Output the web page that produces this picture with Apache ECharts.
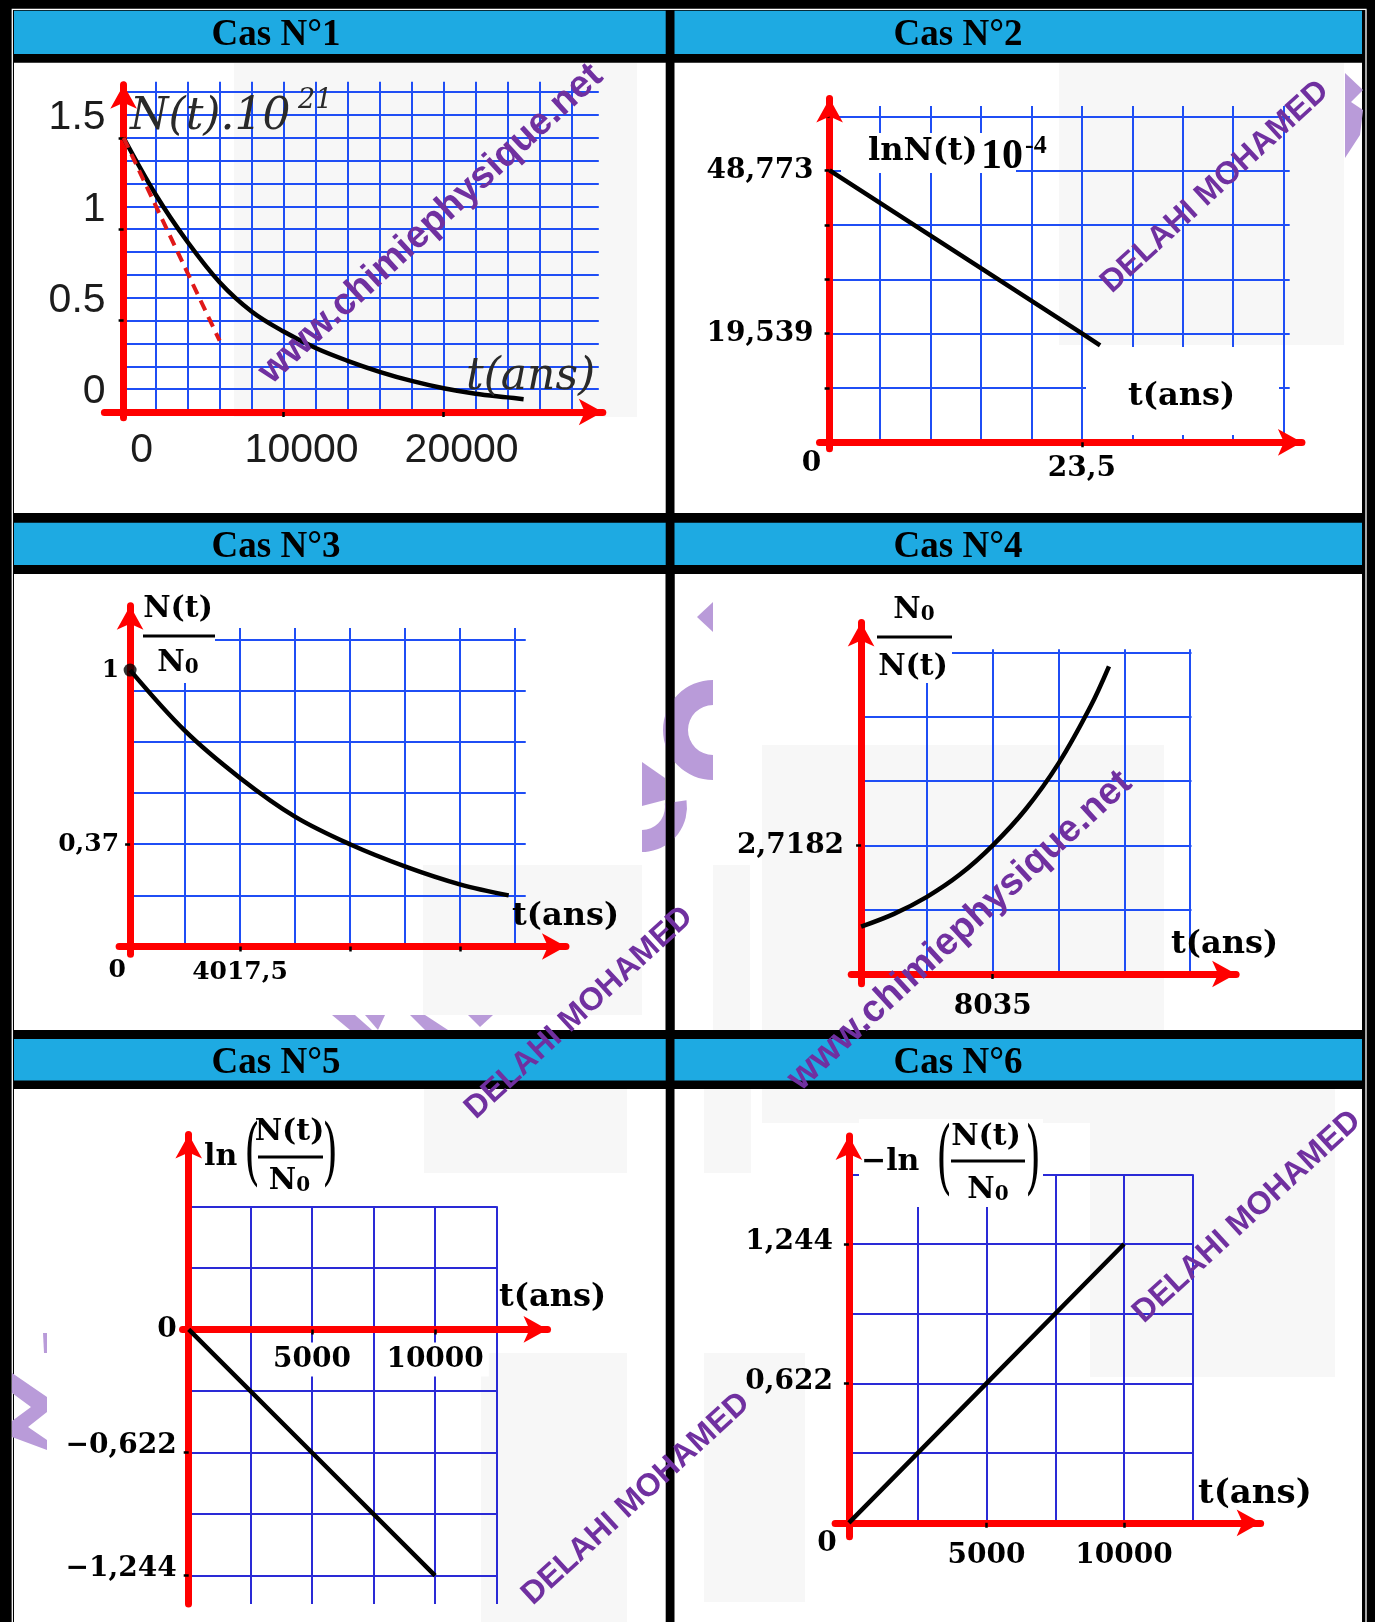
<!DOCTYPE html>
<html>
<head>
<meta charset="utf-8">
<title>Cas N°1 – Cas N°6</title>
<script src="https://cdn.jsdelivr.net/npm/echarts@6/dist/echarts.min.js"></script>
<style>
  html, body { margin: 0; padding: 0; background: #000; }
  #chart { width: 1375px; height: 1622px; }
</style>
</head>
<body>
<div id="chart"></div>
<script>
// valeurs
// Cas N°1 : N(t).10^21 en fonction de t (ans)
const cas1T = [0, 2000, 4000, 6000, 8000, 10000, 12000, 14000, 16000, 18000, 20000, 22000, 24000, 25000];
const cas1N = [1.5, 1.19, 0.93, 0.71, 0.55, 0.44, 0.35, 0.28, 0.22, 0.17, 0.13, 0.10, 0.08, 0.07];
const cas1TangT = [0, 6000];
const cas1TangN = [1.5, 0.39];
const cas1XLabels = [0, 10000, 20000];
const cas1YLabels = [0, 0.5, 1, 1.5];
const cas1Step = [2000, 0.125];

// Cas N°2 : lnN(t).10^-4
const cas2T = [0, 23.5, 25.2];
const cas2Y = [48.773, 19.539, 17.4];
const cas2XLabels = [0, 23.5];
const cas2YLabels = [19.539, 48.773];
const cas2YTicks = [9.7446, 19.539, 29.234, 38.978, 48.773, 58.468];
const cas2Step = [4.7, 9.7446];

// Cas N°3 : N(t)/N0
const cas3T = [0, 2009, 4017.5, 6026, 8035, 10044, 12052.5, 13840];
const cas3R = [1, 0.78, 0.61, 0.47, 0.37, 0.29, 0.225, 0.185];
const cas3XLabels = [0, 4017.5];
const cas3YLabels = [0.37, 1];
const cas3XTicks = [4017.5, 8035, 12052.5];
const cas3Step = [2008.75, 0.185];

// Cas N°4 : N0/N(t)
const cas4T = [0, 2009, 4017.5, 6026, 8035, 10044, 12052.5, 14000, 15130];
const cas4R = [1.0, 1.27, 1.63, 2.1, 2.7182, 3.48, 4.45, 5.65, 6.5];
const cas4XLabels = [8035];
const cas4YLabels = [2.7182];
const cas4Step = [4017.5, 1.3591];

// Cas N°5 : ln(N(t)/N0)
const cas5T = [0, 5000, 10000];
const cas5Y = [0, -0.622, -1.244];
const cas5XLabels = [5000, 10000];
const cas5YLabels = [0, -0.622, -1.244];
const cas5Step = [2500, 0.311];

// Cas N°6 : -ln(N(t)/N0)
const cas6T = [0, 5000, 10000];
const cas6Y = [0, 0.622, 1.244];
const cas6XLabels = [0, 5000, 10000];
const cas6YLabels = [0.622, 1.244];
const cas6Step = [2500, 0.311];

const RED = '#ff0000';
const BAR = '#1eaae2';
const PURPLE = '#7030a0';
const DECO = '#b99bd9';
const GREY = '#f7f7f7';

const zip = (a, b) => a.map((v, i) => [v, b[i]]);
const frFmt = v => String(v).replace('.', ',').replace('-', '\u2212');
const ptFmt = v => String(v);

const sansLab = { fontFamily: 'Liberation Sans', fontSize: 41, fontWeight: 'normal', color: '#1c1c1c' };
const serifLab = { fontFamily: 'DejaVu Serif', fontSize: 28, fontWeight: 'bold', color: '#000' };
const serifLabS = { fontFamily: 'DejaVu Serif', fontSize: 25, fontWeight: 'bold', color: '#000' };

// mise en page : origine (px), taille d'une case (px), étendues en cases
const panels = [
  { ox: 123.6, oy: 412, cw: 32, ch: 22.85, step: cas1Step, vx: 14, vy: [0, 14.45], hy: [0, 14], hx: 14.85,
    ax: [-0.6, 15.35], ay: [-0.25, 14.85], grid: '#1f4ef5',
    xl: { vals: cas1XLabels, fmt: ptFmt, font: sansLab, margin: 18, pads: [[0,0,0,36],[0,0,0,36],[0,0,0,36]] },
    yl: { vals: cas1YLabels, fmt: ptFmt, font: sansLab, margin: 18, pads: [[0,0,40,0],[0,0,40,0],[0,0,40,0],[0,0,40,0]] },
    xt: [10000, 20000], yt: [0.5, 1, 1.5] },
  { ox: 829.6, oy: 442.3, cw: 50.45, ch: 54.33, step: cas2Step, vx: 9, vy: [0, 6.19], hy: [0, 6], hx: 9.12,
    ax: [-0.2, 9.6], ay: [-0.12, 6.55], grid: '#1f4ef5',
    xl: { vals: cas2XLabels, fmt: frFmt, font: serifLab, margin: 7, pads: [[0,36,0,0],[5,0,0,0]] },
    yl: { vals: cas2YLabels, fmt: frFmt, font: serifLab, margin: 16, pads: [[0,0,0,0],[0,0,0,0]] },
    xt: [23.5], yt: cas2YTicks },
  { ox: 130.1, oy: 946.5, cw: 54.95, ch: 51.13, step: cas3Step, vx: 7, vy: [0, 6.23], hy: [0, 6], hx: 7.2,
    ax: [-0.2, 8.15], ay: [-0.15, 6.9], grid: '#1f4ef5',
    xl: { vals: cas3XLabels, fmt: frFmt, font: serifLabS, margin: 11, pads: [[0,26,0,0],[2,0,0,0]] },
    yl: { vals: cas3YLabels, fmt: frFmt, font: serifLabS, margin: 11, pads: [[0,0,0,0],[0,0,0,0]] },
    xt: cas3XTicks, yt: [0.37] },
  { ox: 861.1, oy: 974, cw: 65.82, ch: 64.33, step: cas4Step, vx: 5, vy: [0, 5.05], hy: [0, 5], hx: 5.02,
    ax: [-0.15, 5.88], ay: [-0.15, 5.65], grid: '#1f4ef5',
    xl: { vals: cas4XLabels, fmt: frFmt, font: serifLab, margin: 19, pads: [[0,0,0,0]] },
    yl: { vals: cas4YLabels, fmt: frFmt, font: serifLab, margin: 17, pads: [[0,0,0,0]] },
    xt: cas4XLabels, yt: cas4YLabels },
  { ox: 188.7, oy: 1329.4, cw: 61.6, ch: 61.55, step: cas5Step, vx: 5, vy: [-4.46, 2], hy: [-4, 2], hx: 5,
    ax: [-0.1, 6.02], ay: [-4.46, 3.36], grid: '#2a2ad6',
    xl: { vals: cas5XLabels, fmt: frFmt, font: serifLab, margin: 13, pads: [[3,5,3,5],[3,5,3,5]], bg: '#fff' },
    yl: { vals: cas5YLabels, fmt: frFmt, font: serifLab, margin: 12, pads: [[0,0,0,0],[0,0,14,0],[0,0,14,0]] },
    xt: cas5XLabels, yt: [-0.622, -1.244] },
  { ox: 848.9, oy: 1522.8, cw: 68.79, ch: 69.7, step: cas6Step, vx: 5, vy: [0, 5], hy: [0, 5], hx: 5,
    ax: [-0.2, 6.16], ay: [-0.2, 5.72], grid: '#2a2ad6',
    xl: { vals: cas6XLabels, fmt: frFmt, font: serifLab, margin: 7, pads: [[0,44,0,0],[12,0,0,0],[12,0,0,0]] },
    yl: { vals: cas6YLabels, fmt: frFmt, font: serifLab, margin: 16, pads: [[0,0,4,0],[0,0,4,0]] },
    xt: [5000, 10000], yt: cas6YLabels }
];

const grids = [], xAxes = [], yAxes = [];
const ARROW = 12; // demi-longueur de la flèche

function addGrid(p, xr, yr, trimX, trimY) {
  const left = p.ox + xr[0] * p.cw;
  const right = p.ox + xr[1] * p.cw - (trimX || 0);
  const top = p.oy - yr[1] * p.ch + (trimY || 0);
  const bottom = p.oy - yr[0] * p.ch;
  grids.push({ left, top, width: right - left, height: bottom - top, containLabel: false, outerBoundsMode: 'none' });
  return { min: [xr[0], yr[0]], max: [(right - p.ox) / p.cw, (p.oy - top) / p.ch] };
}

function hidden(gi, min, max, extra) {
  return Object.assign({ gridIndex: gi, type: 'value', min, max, z: 0,
    axisLine: { show: false }, axisTick: { show: false }, axisLabel: { show: false }, splitLine: { show: false } }, extra || {});
}

function labelConf(l) {
  const rich = {};
  l.vals.forEach((v, i) => {
    rich['p' + i] = Object.assign({ padding: l.pads[i] }, l.font, l.bg ? { backgroundColor: l.bg } : {});
  });
  return Object.assign({ show: true, customValues: l.vals, margin: l.margin, rich,
    formatter: v => {
      const i = l.vals.findIndex(u => Math.abs(u - v) < 1e-6 * Math.max(1, Math.abs(u)));
      return i < 0 ? '' : '{p' + i + '|' + l.fmt(l.vals[i]) + '}';
    } }, l.font);
}

// axe rouge fléché (trait seul)
function redAxis(gi, r) {
  return { gridIndex: gi, type: 'value', min: r[0], max: r[1], z: 3,
    axisLine: { show: true, onZero: true, symbol: ['none', 'arrow'], symbolSize: [20, 24],
      lineStyle: { color: RED, width: 7 } },
    axisTick: { show: false }, axisLabel: { show: false }, splitLine: { show: false } };
}

// axe invisible portant graduations et étiquettes, placé sur l'origine
function labelAxis(gi, r, lab, ticks) {
  return { gridIndex: gi, type: 'value', min: r[0], max: r[1], z: 3,
    axisLine: { show: false },
    axisTick: { show: ticks.length > 0, customValues: ticks, length: 5, lineStyle: { color: '#000', width: 2.5 } },
    axisLabel: labelConf(lab),
    splitLine: { show: false } };
}

panels.forEach((p, k) => {
  const [dx, dy] = p.step;
  const lineStyle = { color: p.grid, width: 2 };
  // quadrillage vertical
  let gi = grids.length;
  addGrid(p, [0, p.vx], p.vy);
  xAxes.push(hidden(gi, 0, p.vx * dx, { interval: dx, splitLine: { show: true, lineStyle } }));
  yAxes.push(hidden(gi, p.vy[0] * dy, p.vy[1] * dy));
  // quadrillage horizontal (porte les courbes)
  gi = grids.length;
  addGrid(p, [0, p.hx], p.hy);
  xAxes.push(hidden(gi, 0, p.hx * dx));
  yAxes.push(hidden(gi, p.hy[0] * dy, p.hy[1] * dy, { interval: dy, splitLine: { show: true, lineStyle } }));
  // axes rouges fléchés
  gi = grids.length;
  const e = addGrid(p, p.ax, p.ay, ARROW, ARROW);
  xAxes.push(redAxis(gi, [e.min[0] * dx, e.max[0] * dx]));
  yAxes.push(redAxis(gi, [e.min[1] * dy, e.max[1] * dy]));
  // étiquettes de l'axe des t (bord bas sur t = 0)
  gi = grids.length;
  addGrid(p, [e.min[0], e.max[0]], [0, 1]);
  xAxes.push(labelAxis(gi, [e.min[0] * dx, e.max[0] * dx], p.xl, p.xt));
  yAxes.push(hidden(gi, 0, dy));
  // étiquettes de l'axe vertical (bord gauche sur l'origine)
  gi = grids.length;
  addGrid(p, [0, 1], [e.min[1], e.max[1]]);
  xAxes.push(hidden(gi, 0, dx));
  yAxes.push(labelAxis(gi, [e.min[1] * dy, e.max[1] * dy], p.yl, p.yt));
});

const H = k => 5 * k + 1;
const curve = { type: 'line', showSymbol: false, clip: false, silent: true, z: 4,
  lineStyle: { color: '#000', width: 4.5 } };
const series = [
  Object.assign({}, curve, { xAxisIndex: H(0), yAxisIndex: H(0), smooth: 0.35, data: zip(cas1T, cas1N) }),
  Object.assign({}, curve, { xAxisIndex: H(0), yAxisIndex: H(0), data: zip(cas1TangT, cas1TangN),
    lineStyle: { color: '#e01818', width: 4, type: [11, 7] } }),
  Object.assign({}, curve, { xAxisIndex: H(1), yAxisIndex: H(1), data: zip(cas2T, cas2Y) }),
  Object.assign({}, curve, { xAxisIndex: H(2), yAxisIndex: H(2), smooth: 0.35, data: zip(cas3T, cas3R) }),
  { type: 'scatter', xAxisIndex: H(2), yAxisIndex: H(2), z: 5, silent: true, symbolSize: 13,
    itemStyle: { color: '#000' }, data: [[cas3T[0], cas3R[0]]] },
  Object.assign({}, curve, { xAxisIndex: H(3), yAxisIndex: H(3), smooth: 0.35, data: zip(cas4T, cas4R) }),
  Object.assign({}, curve, { xAxisIndex: H(4), yAxisIndex: H(4), data: zip(cas5T, cas5Y) }),
  Object.assign({}, curve, { xAxisIndex: H(5), yAxisIndex: H(5), data: zip(cas6T, cas6Y) })
];

// décor : cadres, bandeaux, textes
const g = [];
function rect(x, y, w, h, fill, z) {
  g.push({ type: 'rect', silent: true, z, shape: { x, y, width: w, height: h }, style: { fill } });
}
function txt(x, y, text, font, o) {
  o = o || {};
  g.push({ type: 'text', silent: true, x, y, z: o.z != null ? o.z : 6, rotation: o.rot || 0,
    scaleX: o.sx || 1, scaleY: o.sy || 1,
    style: { text, font, fill: o.fill || '#000', textAlign: o.align || 'left', textVerticalAlign: 'middle',
      align: o.align || 'left', verticalAlign: 'middle', rich: o.rich } });
}
function bar(x1, x2, y) {
  g.push({ type: 'line', silent: true, z: 6, shape: { x1, y1: y, x2, y2: y }, style: { stroke: '#000', lineWidth: 3 } });
}
function poly(points, z) {
  g.push({ type: 'polygon', silent: true, z: z || -7, shape: { points }, style: { fill: DECO } });
}

const cols = [[14, 665.7], [674.5, 1362]];
const rows = [[10.7, 54, 62.7, 513], [522.7, 565, 574, 1030], [1039, 1080.5, 1089, 1622]];
rows.forEach(r => cols.forEach(c => {
  rect(c[0], r[0], c[1] - c[0], r[1] - r[0], BAR, -8);
  rect(c[0], r[2], c[1] - c[0], r[3] - r[2], '#fff', -10);
}));
g.push({ type: 'rect', silent: true, z: -10, shape: { x: 12.3, y: 9.3, width: 1353.7, height: 1620 },
  style: { fill: null, stroke: '#fff', lineWidth: 1.3 } });

// fonds gris clair des filigranes
[[234, 63, 403, 354], [1059, 63, 285, 282], [423, 865, 219, 150], [762, 745, 402, 285], [713, 865, 37, 165],
 [424, 1089, 203, 84], [481, 1353, 146, 269], [1090, 1089, 245, 288], [762, 1089, 328, 34],
 [704, 1353, 101, 249], [704, 1089, 47, 84]].forEach(r => rect(r[0], r[1], r[2], r[3], GREY, -9));

// morceaux du logo en arrière-plan
poly([[697, 617], [713, 602], [713, 632]]);
g.push({ type: 'sector', silent: true, z: -7, shape: { cx: 713, cy: 730, r0: 25, r: 50,
  startAngle: Math.PI / 2, endAngle: Math.PI * 1.5, clockwise: true }, style: { fill: DECO } });
poly([[642, 762], [665, 778], [665, 800], [642, 806]]);
g.push({ type: 'sector', silent: true, z: -7, shape: { cx: 642, cy: 807, r0: 23, r: 45,
  startAngle: -0.15, endAngle: Math.PI / 2, clockwise: true }, style: { fill: DECO } });
poly([[12, 1373], [47, 1397], [47, 1412], [28, 1427], [47, 1440], [47, 1450], [12, 1437], [12, 1421], [31, 1407], [12, 1393]]);
poly([[43, 1333], [47, 1333], [47, 1353], [44, 1353]]);
poly([[332, 1015], [355, 1015], [372, 1030], [350, 1030]]);
poly([[365, 1015], [385, 1015], [378, 1030]]);
poly([[410, 1015], [425, 1015], [448, 1030], [425, 1030]]);
poly([[468, 1015], [493, 1015], [480, 1027]]);
poly([[1345, 73], [1363, 90], [1351, 102], [1363, 110], [1360, 135], [1345, 158]]);
rect(665.7, 574, 8.8, 456, '#000', -6);

// titres
const titleFont = 'bold 37px "Liberation Serif"';
[['Cas N°1', 276, 35.5], ['Cas N°2', 958, 35.5], ['Cas N°3', 276, 547.5],
 ['Cas N°4', 958, 547.5], ['Cas N°5', 276, 1063], ['Cas N°6', 958, 1063]]
  .forEach(t => txt(t[1], t[2], t[0], titleFont, { align: 'center', z: -7 }));

const B30 = 'bold 30px "DejaVu Serif"';
const B32 = 'bold 32px "DejaVu Serif"';
const n0Rich = { n: { font: B30 }, s: { font: 'bold 20px "DejaVu Serif"', verticalAlign: 'bottom' } };
const paren = 'normal 40px "DejaVu Serif"';

// Cas N°1
txt(130, 118, 'N(t).10', 'italic 44px "DejaVu Serif"', { fill: '#2a2a2a' });
txt(298, 101, '21', 'italic 27px "DejaVu Serif"', { fill: '#2a2a2a' });
txt(466, 378, 't(ans)', 'italic 44px "DejaVu Serif"', { fill: '#2a2a2a' });
// Cas N°2
rect(841, 133, 175, 40, '#fff', 1);
rect(1086, 347, 193, 88, '#fff', 1);
txt(868, 152, 'lnN(t)', B32);
txt(981, 157, '10', 'bold 42px "Liberation Serif"');
txt(1025, 146, '-4', 'bold 26px "Liberation Serif"');
txt(1128, 397, 't(ans)', B32);
// Cas N°3
rect(133, 588, 82, 95, '#fff', 1);
txt(178, 609, 'N(t)', B30, { align: 'center' });
bar(143, 215, 636);
txt(178, 663, '{n|N}{s|0}', B30, { align: 'center', rich: n0Rich });
txt(512, 917, 't(ans)', B32);
// Cas N°4
rect(864, 588, 88, 95, '#fff', 1);
txt(914, 610, '{n|N}{s|0}', B30, { align: 'center', rich: n0Rich });
bar(877, 952, 637);
txt(913, 667, 'N(t)', B30, { align: 'center' });
txt(1171, 945, 't(ans)', B32);
// Cas N°5
txt(204, 1157, 'ln', B30);
txt(252, 1157, '(', paren, { align: 'center', sy: 1.8 });
txt(289.5, 1132, 'N(t)', B30, { align: 'center' });
bar(258, 323, 1157);
txt(289.5, 1181, '{n|N}{s|0}', B30, { align: 'center', rich: n0Rich });
txt(330, 1157, ')', paren, { align: 'center', sy: 1.8 });
txt(499, 1298, 't(ans)', B32);
// Cas N°6
rect(859, 1119, 184, 88, '#fff', 1);
txt(861, 1162, '\u2212ln', B30);
txt(944, 1163, '(', paren, { align: 'center', sy: 2 });
txt(986, 1137, 'N(t)', B30, { align: 'center' });
bar(951, 1025, 1161);
txt(988, 1190, '{n|N}{s|0}', B30, { align: 'center', rich: n0Rich });
txt(1033, 1163, ')', paren, { align: 'center', sy: 2 });
txt(1198, 1494.5, 't(ans)', 'bold 34px "DejaVu Serif"');

// filigranes
const wmRot = 0.744;
txt(431, 224, 'www.chimiephysique.net', 'bold 38px "Liberation Sans"', { align: 'center', rot: wmRot, fill: PURPLE, z: 20 });
txt(960, 931, 'www.chimiephysique.net', 'bold 38px "Liberation Sans"', { align: 'center', rot: wmRot, fill: PURPLE, z: 20 });
[[1215, 187], [579, 1013], [1247, 1217], [636, 1499]].forEach(c =>
  txt(c[0], c[1], 'DELAHI MOHAMED', 'bold 32px "Liberation Sans"', { align: 'center', rot: wmRot, fill: PURPLE, z: 20 }));

const chart = echarts.init(document.getElementById('chart'));
chart.setOption({
  animation: false,
  backgroundColor: '#000',
  grid: grids,
  xAxis: xAxes,
  yAxis: yAxes,
  series,
  graphic: g
});
</script>
</body>
</html>
